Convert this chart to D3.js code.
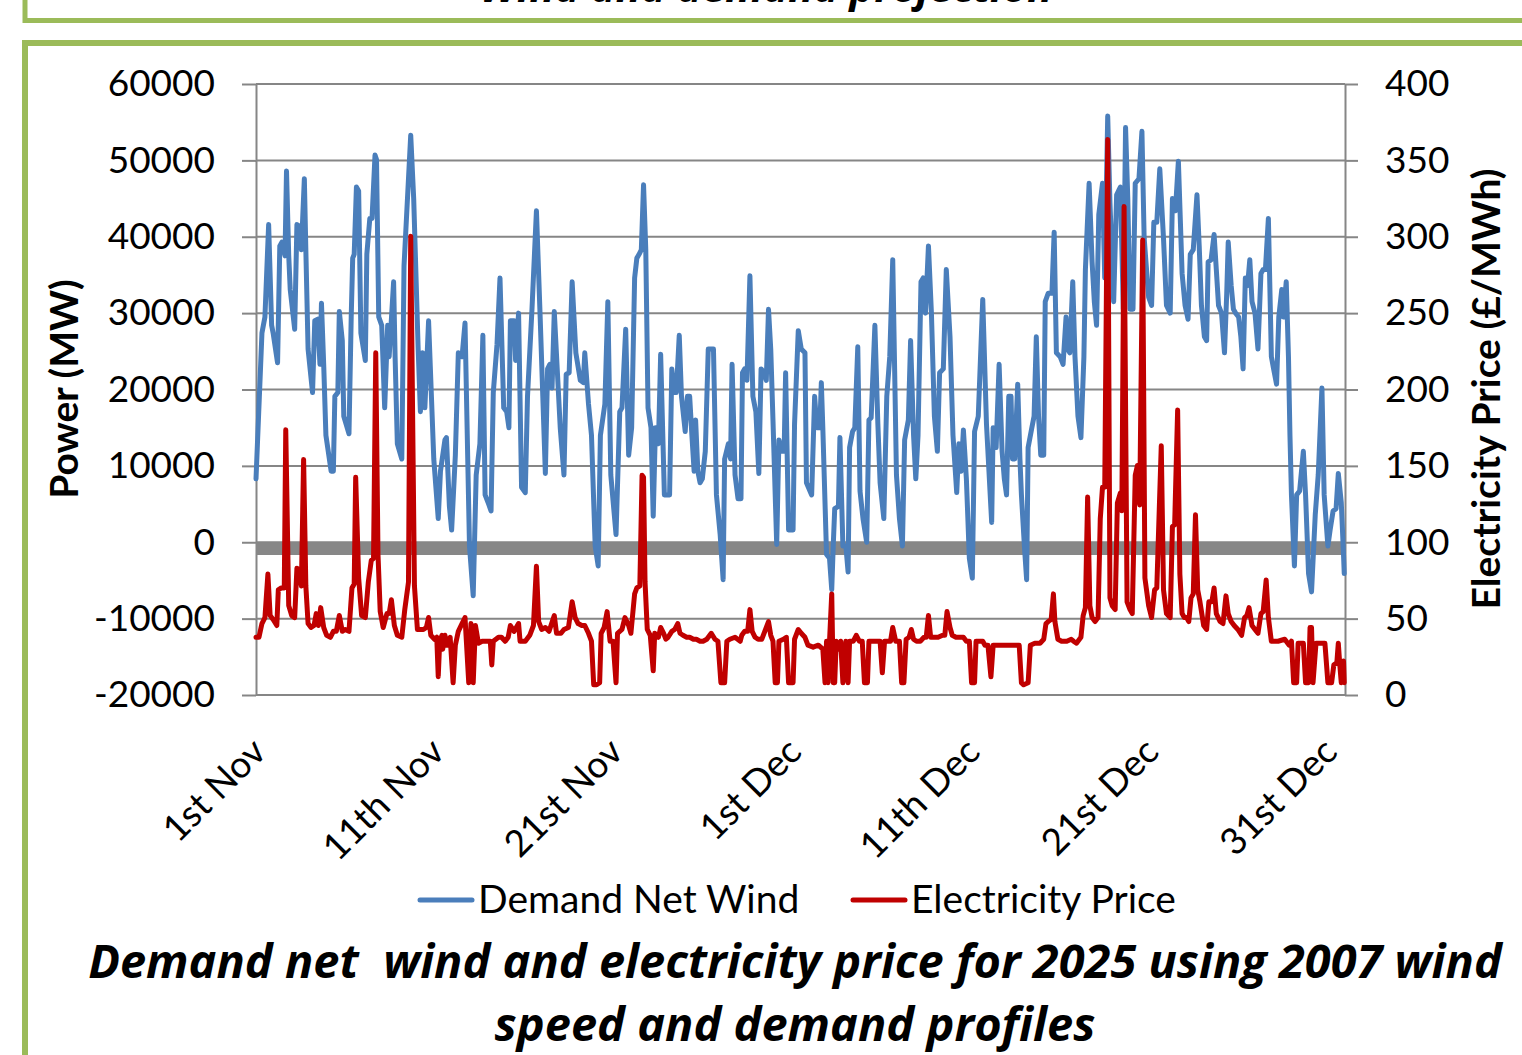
<!DOCTYPE html>
<html>
<head>
<meta charset="utf-8">
<script src="https://cdn.jsdelivr.net/npm/d3@7"></script>
<style>
  html, body { margin: 0; padding: 0; background: #fff; }
  svg { display: block; }
  text { font-family: Lato, "Open Sans", "DejaVu Sans", sans-serif; fill: #000; }
  .ttl { font-family: "Open Sans", Lato, sans-serif; font-weight: bold; font-style: italic; }
</style>
</head>
<body>
<div id="chart"></div>
<script>
// ---------- DATA (hours since 1 Nov 00:00) ----------
const tickHours = [0, 240, 480, 720, 960, 1200, 1440];
const tickLabels = ["1st Nov", "11th Nov", "21st Nov", "1st Dec", "11th Dec", "21st Dec", "31st Dec"];
const powerTicks = [-20000, -10000, 0, 10000, 20000, 30000, 40000, 50000, 60000];
const priceTicks = [0, 50, 100, 150, 200, 250, 300, 350, 400];
const seriesNames = ["Demand Net Wind", "Electricity Price"];
const referenceLineMW = [[0, -900], [1461, -900]];

// Demand Net Wind (MW)
const demandNetWind = [
  [0, 8300], [8, 27400], [12, 29500], [17, 41600], [21, 28400], [23, 27400], [29, 23500], [32, 38800], [35, 39300], [39, 37500],
  [41, 48600], [44, 37500], [46, 33100], [52, 27900], [55, 41600], [58, 41400], [61, 38300], [65, 47600], [67, 38300], [70, 25300],
  [76, 19600], [79, 29000], [83, 29200], [86, 23300], [88, 31300], [91, 23300], [94, 14000], [101, 9300], [104, 9300], [106, 19100],
  [110, 19600], [112, 30200], [116, 26400], [118, 16500], [125, 14200], [128, 29500], [130, 37200], [132, 37700], [135, 46500], [138, 46000],
  [141, 27400], [147, 23800], [149, 37700], [153, 42400], [156, 42400], [160, 50700], [162, 50100], [165, 29500], [169, 28400], [173, 17600],
  [177, 28400], [179, 24300], [185, 34100], [187, 24300], [190, 12900], [196, 10900], [199, 36200], [208, 53300], [212, 45000], [218, 25300],
  [221, 17100], [224, 24800], [227, 17600], [232, 29000], [239, 10900], [245, 3100], [248, 9300], [254, 13400],
  [256, 13700], [260, 4700], [263, 1600], [268, 11400], [272, 24800], [277, 24300], [281, 28700], [287, -500], [292, -7000], [296, 8800],
  [301, 12900], [305, 27100], [308, 6200], [312, 5200], [316, 4100], [319, 19600], [324, 25900], [328, 34600], [333, 17600], [337, 17100],
  [340, 15000], [342, 29000], [347, 29000], [349, 23800], [353, 30000], [357, 7200], [362, 6500], [365, 19100], [371, 30500], [377, 43400],
  [382, 29500], [389, 9000], [392, 22700], [395, 23300], [398, 20200], [401, 30200], [409, 15000], [414, 8800], [417, 22000], [421, 22200],
  [425, 34100], [430, 24800], [436, 21200], [440, 20900], [442, 24800], [447, 18100], [451, 14000], [456, -500], [460, -3100], [463, 14000],
  [469, 18100], [473, 31500], [477, 8800], [484, 1000], [489, 17100], [492, 17600], [497, 27900], [501, 11400],
  [505, 15000], [509, 34600], [512, 37200], [515, 37700], [518, 38300], [521, 46800], [524, 38300], [527, 17600], [531, 15000], [534, 3400],
  [537, 15000], [541, 12900], [544, 24600], [549, 6200], [556, 6200], [559, 22700], [562, 19600], [565, 19600], [569, 27100], [572, 19100],
  [577, 14500], [580, 19100], [583, 19100], [586, 14000], [589, 9300], [591, 16000], [594, 9300], [597, 7800], [600, 8300], [604, 11900],
  [608, 25300], [615, 25300], [619, 6200], [624, 1000], [628, -4900], [630, 10900], [635, 12900], [638, 10900], [640, 23300], [644, 8800],
  [648, 5700], [652, 5700], [654, 22200], [657, 22700], [660, 21200], [664, 34900], [668, 19100], [672, 17100], [676, 9000], [679, 22700],
  [683, 22200], [686, 21200], [689, 30500], [692, 25300], [695, 16000], [700, -300], [703, 13400], [707, 11900], [710, 11900], [712, 22200],
  [716, 1600], [722, 1600], [724, 15500], [729, 27700], [733, 25300], [738, 24800], [740, 7800], [747, 6200],
  [751, 19100], [754, 15000], [758, 15000], [760, 20900], [762, 15000], [767, -1600], [771, -2100], [774, -6200], [776, -500], [778, 4400],
  [783, 4700], [785, 13700], [789, -500], [793, -500], [796, -3900], [798, 12400], [802, 14500], [805, 15000], [809, 25600], [812, 6700],
  [816, 3100], [821, 0], [824, 16000], [827, 16300], [832, 28400], [836, 15500], [839, 7800], [844, 3100], [848, 19100], [852, 24300],
  [856, 37000], [861, 8800], [865, 3100], [869, -500], [872, 13400], [877, 16000], [880, 26400], [884, 14000], [887, 8300], [890, 14000],
  [894, 34100], [897, 34600], [900, 30000], [904, 38800], [908, 30000], [912, 16500], [916, 11900], [919, 22200], [924, 22700], [928, 35700],
  [933, 26900], [937, 14000], [942, 6500], [945, 12900], [948, 9300], [951, 14700], [955, 8300], [959, -2100], [963, -4700], [966, 14500],
  [971, 16500], [977, 31800], [982, 15500], [989, 2600], [991, 15000], [995, 12400], [999, 23300],
  [1003, 11900], [1006, 8300], [1009, 6200], [1012, 19100], [1015, 19100], [1017, 10900], [1020, 10900], [1024, 20700], [1027, 10900], [1029, 6200],
  [1033, -500], [1036, -4900], [1038, 12400], [1043, 15000], [1046, 16500], [1049, 26900], [1052, 16500], [1055, 11400], [1059, 11400], [1061, 31500],
  [1065, 32600], [1070, 32600], [1073, 40600], [1076, 24800], [1081, 24300], [1085, 23300], [1089, 29500], [1091, 25300], [1094, 24800], [1098, 34100],
  [1101, 24300], [1105, 16500], [1109, 13700], [1113, 24300], [1115, 35700], [1120, 47000], [1124, 36700], [1127, 31500], [1130, 28400], [1133, 42900],
  [1138, 47000], [1141, 34600], [1145, 55800], [1148, 44500], [1153, 31500], [1157, 45500], [1162, 46500], [1166, 30500], [1169, 54300], [1172, 45000],
  [1175, 30500], [1179, 30500], [1182, 47000], [1187, 47600], [1191, 53800], [1194, 39800], [1200, 32100], [1204, 31000], [1207, 41900], [1211, 41900],
  [1215, 48900], [1220, 39800], [1224, 31000], [1229, 30000], [1232, 45000], [1236, 43400], [1240, 49900],
  [1245, 35200], [1249, 31000], [1253, 29200], [1256, 37700], [1260, 38300], [1265, 45500], [1268, 38800], [1271, 31000], [1275, 26900], [1278, 26400],
  [1280, 36700], [1284, 37000], [1288, 40300], [1291, 35700], [1294, 31000], [1298, 30000], [1302, 24800], [1305, 32600], [1307, 39300], [1311, 33600],
  [1314, 30500], [1317, 30000], [1321, 29500], [1324, 26900], [1327, 22700], [1330, 34600], [1333, 33600], [1336, 37000], [1339, 31500], [1343, 30000],
  [1347, 25300], [1351, 35200], [1354, 35700], [1357, 35700], [1361, 42400], [1365, 24300], [1368, 22700], [1372, 20700], [1375, 29500], [1379, 33100],
  [1381, 29500], [1385, 34100], [1388, 24300], [1390, 14000], [1392, 6200], [1396, -3100], [1399, 6200], [1403, 6700], [1408, 11900], [1411, 6200],
  [1415, -4100], [1419, -6500], [1424, 3600], [1428, 8800], [1433, 20200], [1436, 6200], [1441, -500], [1444, 1600], [1448, 4100], [1452, 4400],
  [1455, 9000], [1459, 5200], [1462, -1600], [1463, -4100]
];

// Electricity Price (GBP/MWh)
const electricityPrice = [
  [0, 37.8], [4, 37.8], [8, 46.8], [12, 50.7], [16, 79.2], [19, 52], [23, 49.4], [28, 45.5], [30, 68.8], [34, 70.1],
  [38, 70.1], [40, 173.6], [44, 58.5], [48, 52], [52, 50.7], [55, 83], [58, 81.7], [61, 71.4], [64, 154.2], [67, 71.4],
  [70, 46.8], [74, 44.2], [78, 45.5], [81, 53.3], [84, 45.5], [87, 57.2], [91, 44.2], [95, 39.1], [100, 37.8], [104, 41.7],
  [108, 41.7], [112, 52], [116, 41.7], [120, 42.9], [125, 41.7], [129, 70.1], [132, 72.7], [134, 142.5], [138, 76.6], [142, 52],
  [147, 50.7], [151, 74], [155, 88.2], [158, 89.5], [161, 224], [164, 92.1], [167, 54.6], [171, 44.2], [176, 53.3], [179, 53.3],
  [182, 62.3], [186, 45.5], [190, 39.1], [196, 37.8], [200, 55.9], [205, 74], [208, 300.4], [213, 71.4], [217, 42.9], [222, 42.9],
  [225, 42.9], [229, 44.2], [232, 50.7], [235, 39.1], [240, 36.5], [243, 37.8], [245, 12], [247, 35.2], [250, 39.1],
  [251, 30], [254, 39.1], [257, 32.6], [261, 37.8], [265, 8], [268, 32.6], [272, 41.7], [277, 46.8], [281, 50.7], [286, 8],
  [289, 46.8], [292, 8], [295, 45.5], [299, 33.9], [304, 35.2], [310, 35.2], [315, 35.2], [317, 19.7], [319, 35.2], [326, 37.8],
  [330, 37.8], [335, 35.2], [339, 37.8], [342, 45.5], [347, 41.7], [353, 46.8], [355, 35.2], [362, 35.2], [368, 39.1], [373, 45.5],
  [377, 84.3], [380, 48.1], [384, 42.9], [389, 44.2], [394, 41.7], [401, 52], [404, 40.4], [410, 40.4], [414, 42.9], [420, 44.2],
  [425, 61], [429, 50.7], [433, 46.8], [438, 45.5], [442, 45.5], [447, 40.4], [451, 35.2], [454, 6.7], [458, 6.7], [462, 8],
  [464, 40.4], [468, 44.2], [472, 54.6], [476, 35.2], [480, 35.2], [484, 8], [486, 40.4], [492, 42.9], [496, 50.7], [501, 45.5],
  [504, 40.4], [509, 66.2], [512, 70.1], [516, 71.4], [519, 143.8], [521, 142.5], [523, 74], [526, 42.9], [530, 39.1], [534, 15.8],
  [536, 40.4], [541, 37.8], [544, 44.2], [548, 40.4], [551, 36.5], [554, 37.8], [559, 41.7], [563, 42.9], [567, 46.8], [570, 40.4],
  [574, 39.1], [579, 37.8], [583, 37.8], [588, 36.5], [592, 36.5], [597, 35.2], [601, 35.2], [606, 36.5], [612, 40.4], [617, 36.5],
  [621, 35.2], [625, 8], [630, 8], [633, 35.2], [637, 36.5], [644, 37.8], [651, 35.2], [653, 39.1], [657, 41.7], [661, 41.7],
  [664, 55.9], [667, 41.7], [671, 37.8], [675, 36.5], [680, 36.5], [684, 41.7], [689, 48.1], [692, 39.1], [695, 35.2], [698, 8],
  [701, 8], [703, 35.2], [709, 36.5], [713, 37.8], [716, 8], [722, 8], [724, 36.5], [729, 42.9], [733, 40.4], [738, 37.8],
  [742, 32.6], [749, 31.3],
  [756, 32.6], [762, 30], [765, 8], [767, 35.2], [769, 8], [771, 35.2], [774, 66.2], [776, 8], [778, 8], [780, 35.2],
  [783, 30], [786, 35.2], [789, 8], [793, 35.2], [796, 8], [798, 35.2], [803, 35.2], [807, 39.1], [811, 35.2], [815, 35.2],
  [818, 8], [822, 8], [824, 35.2], [830, 35.2], [834, 35.2], [839, 35.2], [842, 14.5], [845, 35.2], [850, 35.2], [853, 35.2],
  [856, 44.2], [860, 35.2], [865, 35.2], [868, 8], [871, 8], [874, 36.5], [878, 37.8], [881, 42.9], [884, 36.5], [888, 35.2],
  [893, 35.2], [898, 37.8], [901, 37.8], [904, 52], [907, 37.8], [911, 37.8], [917, 37.8], [923, 39.1], [926, 39.1], [929, 54.6],
  [933, 44.2], [936, 39.1], [941, 37.8], [945, 37.8], [951, 37.8], [955, 35.2], [959, 35.2], [962, 8], [966, 8], [968, 35.2],
  [973, 35.2], [977, 35.2], [980, 32.6], [984, 32.6], [988, 11.9], [991, 32.6], [995, 32.6], [999, 32.6],
  [1007, 32.6], [1016, 32.6], [1023, 32.6], [1026, 32.6], [1029, 8], [1032, 6.7], [1038, 8], [1041, 32.6], [1047, 33.9], [1054, 33.9],
  [1059, 36.5], [1062, 46.8], [1065, 48.1], [1069, 49.4], [1072, 66.2], [1074, 48.1], [1078, 36.5], [1083, 35.2], [1090, 35.2], [1096, 36.5],
  [1099, 35.2], [1103, 33.9], [1109, 37.8], [1112, 52], [1115, 57.2], [1118, 129.6], [1121, 58.5], [1124, 50.7], [1128, 48.1], [1132, 50.7],
  [1135, 115.4], [1138, 136], [1141, 136], [1145, 363.7], [1148, 63.6], [1151, 58.5], [1155, 55.9], [1158, 125.7], [1162, 132.2], [1164, 120.6],
  [1167, 319.8], [1171, 61], [1175, 55.9], [1178, 53.3], [1182, 143.8], [1185, 150.3], [1188, 124.4], [1192, 297.8], [1195, 76.6], [1200, 58.5],
  [1204, 50.7], [1208, 68.8], [1211, 70.1], [1217, 163.2], [1220, 68.8], [1224, 53.3], [1229, 50.7], [1232, 110.2], [1235, 111.5], [1239, 186.5],
  [1242, 79.2], [1245, 53.3], [1248, 50.7],
  [1251, 50.7], [1254, 48.1], [1257, 63.6], [1260, 66.2], [1263, 118], [1266, 68.8], [1269, 61], [1274, 45.5], [1278, 42.9], [1281, 61],
  [1285, 61], [1288, 70.1], [1291, 53.3], [1296, 48.1], [1300, 46.8], [1304, 64.9], [1307, 53.3], [1311, 48.1], [1315, 45.5], [1320, 42.9],
  [1325, 39.1], [1329, 50.7], [1332, 52], [1335, 57.2], [1339, 45.5], [1343, 42.9], [1347, 40.4], [1351, 53.3], [1354, 54.6], [1358, 75.3],
  [1361, 50.7], [1365, 35.2], [1374, 35.2], [1383, 36.5], [1389, 32.6], [1392, 35.2], [1395, 8], [1399, 8], [1401, 33.9], [1408, 33.9],
  [1411, 8], [1415, 8], [1417, 44.2], [1419, 44.2], [1421, 8], [1425, 33.9], [1433, 33.9], [1437, 33.9], [1441, 8], [1446, 8],
  [1449, 19.7], [1453, 21], [1455, 33.9], [1457, 19.7], [1459, 8], [1462, 22.2], [1463, 8]
];

const titleLines = ["Demand net  wind and electricity price for 2025 using 2007 wind", "speed and demand profiles"];
const topCutText = "Wind and demand projection";

// ---------- DRAWING ----------
const W = 1522, H = 1055;
const svg = d3.select("#chart").append("svg").attr("width", W).attr("height", H);
svg.append("rect").attr("width", W).attr("height", H).attr("fill", "#fff");

const green = "#9bbb59";
// top (cut off) frame
svg.append("rect").attr("x", 25).attr("y", -30).attr("width", 1600).attr("height", 50.5)
  .attr("fill", "none").attr("stroke", green).attr("stroke-width", 5);
svg.append("text").attr("class", "ttl").attr("x", 766).attr("y", 2).attr("text-anchor", "middle")
  .style("font-size", "42px").text(topCutText);
// main frame
svg.append("rect").attr("x", 25).attr("y", 43).attr("width", 1600).attr("height", 1100)
  .attr("fill", "none").attr("stroke", green).attr("stroke-width", 6);

const x = d3.scaleLinear().domain([0, 1464]).range([256, 1345]);
const yL = d3.scaleLinear().domain([-20000, 60000]).range([695, 84]);
const yR = d3.scaleLinear().domain([0, 400]).range([695, 84]);
const axisColor = "#868686";

// gridlines
svg.append("g").selectAll("line").data(powerTicks.filter(v => v > -20000)).join("line")
  .attr("x1", x(0)).attr("x2", x(1464)).attr("y1", d => yL(d)).attr("y2", d => yL(d))
  .attr("stroke", axisColor).attr("stroke-width", 2);

// left axis
const gL = svg.append("g").attr("transform", `translate(${x(0)},0)`)
  .call(d3.axisLeft(yL).tickValues(powerTicks).tickSize(14).tickSizeOuter(0).tickPadding(27).tickFormat(d => String(d)));
gL.selectAll("path, line").attr("stroke", axisColor).attr("stroke-width", 2);
gL.selectAll("text").style("font-size", "37px").attr("fill", "#000");

// right axis
const gR = svg.append("g").attr("transform", `translate(${x(1464)},0)`)
  .call(d3.axisRight(yR).tickValues(priceTicks).tickSize(13).tickSizeOuter(0).tickPadding(27).tickFormat(d => String(d)));
gR.selectAll("path, line").attr("stroke", axisColor).attr("stroke-width", 2);
gR.selectAll("text").style("font-size", "37px").attr("fill", "#000");

// bottom axis line
svg.append("line").attr("x1", x(0)).attr("x2", x(1464)).attr("y1", yL(-20000)).attr("y2", yL(-20000))
  .attr("stroke", axisColor).attr("stroke-width", 2);

// x tick labels
svg.append("g").selectAll("text").data(tickHours).join("text")
  .attr("transform", d => `translate(${x(d) + 12},754) rotate(-45)`)
  .attr("text-anchor", "end").style("font-size", "37px")
  .text((d, i) => tickLabels[i]);

// reference gray line
svg.append("path").datum(referenceLineMW)
  .attr("d", d3.line().x(d => x(d[0])).y(d => yL(d[1])))
  .attr("fill", "none").attr("stroke", "#878787").attr("stroke-width", 12);

// series
const blue = "#4a7ebb", red = "#c00000";
svg.append("path").datum(demandNetWind)
  .attr("d", d3.line().x(d => x(d[0])).y(d => yL(d[1])))
  .attr("fill", "none").attr("stroke", blue).attr("stroke-width", 5)
  .attr("stroke-linejoin", "round").attr("stroke-linecap", "round");
svg.append("path").datum(electricityPrice)
  .attr("d", d3.line().x(d => x(d[0])).y(d => yR(d[1])))
  .attr("fill", "none").attr("stroke", red).attr("stroke-width", 5)
  .attr("stroke-linejoin", "round").attr("stroke-linecap", "round");

// axis titles
svg.append("text").attr("transform", "translate(78,389) rotate(-90)").attr("text-anchor", "middle")
  .style("font-size", "39px").style("font-weight", "bold").text("Power (MW)");
svg.append("text").attr("transform", "translate(1500,389) rotate(-90)").attr("text-anchor", "middle")
  .style("font-size", "39px").style("font-weight", "bold").text("Electricity Price (£/MWh)");

// legend
const legend = [{x1: 420, x2: 472, tx: 478, c: blue}, {x1: 853, x2: 905, tx: 911, c: red}];
legend.forEach((l, i) => {
  svg.append("line").attr("x1", l.x1).attr("x2", l.x2).attr("y1", 900).attr("y2", 900)
    .attr("stroke", l.c).attr("stroke-width", 5).attr("stroke-linecap", "round");
  svg.append("text").attr("x", l.tx).attr("y", 913).style("font-size", "39px").text(seriesNames[i]);
});

// title (size fitted so the first line spans the same width as in the reference)
const titles = svg.append("g").selectAll("text").data(titleLines).join("text")
  .attr("class", "ttl")
  .attr("x", 795).attr("y", (d, i) => 978 + i * 63).attr("text-anchor", "middle")
  .style("font-size", "45px").attr("xml:space", "preserve").style("white-space", "pre")
  .text(d => d);
const w0 = titles.nodes()[0].getComputedTextLength();
const fs = Math.min(52, 45 * 1414 / w0);
titles.style("font-size", fs + "px");
</script>
</body>
</html>
